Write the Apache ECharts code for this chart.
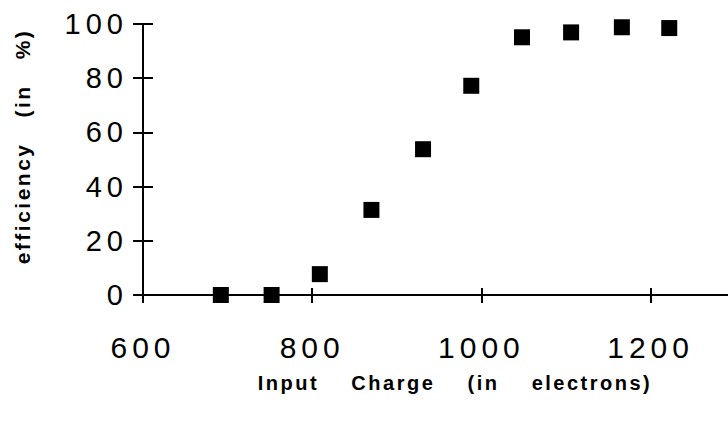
<!DOCTYPE html>
<html>
<head>
<meta charset="utf-8">
<script src="https://cdn.jsdelivr.net/npm/echarts@6/dist/echarts.min.js"></script>
<style>
  html, body { margin: 0; padding: 0; background: #fff; }
  #chart { width: 728px; height: 421px; }
  #chart text { letter-spacing: 5px; }
  #chart text[style*="bold"] { letter-spacing: 2.5px; }
</style>
</head>
<body>
<div id="chart"></div>
<script>
// Data
const inputCharge = [692, 752, 809, 870, 931, 988, 1048, 1106, 1166, 1222];
const efficiency  = [0, 0, 7.7, 31.4, 53.8, 77.2, 95.1, 96.9, 98.8, 98.5];
const xTicks = [600, 800, 1000, 1200];
const yTicks = [0, 20, 40, 60, 80, 100];
const xName = 'Input    Charge    (in    electrons)';
const yName = 'efficiency   (in   %)';

const points = inputCharge.map((x, i) => [x, efficiency[i]]);
const FONT = '"Liberation Sans", Arial, Helvetica, sans-serif';

const chart = echarts.init(document.getElementById('chart'), null, { renderer: 'svg' });

const gridBox = { left: 143, right: -3, top: 24, bottom: 126, containLabel: false, outerBoundsMode: 'none' };
const xCommon = {
  type: 'value', min: 600, max: 1295, interval: 200, position: 'bottom', offset: 0,
  splitLine: { show: false }
};
const yCommon = {
  type: 'value', min: 0, max: 100, interval: 20, position: 'left', offset: 0,
  splitLine: { show: false }
};
const axisLineStyle = { show: true, lineStyle: { color: '#000', width: 2 } };
const xFmt = v => (xTicks.indexOf(v) >= 0 ? String(v) : '');
const yFmt = v => (yTicks.indexOf(v) >= 0 ? String(v) : '');

chart.setOption({
  animation: false,
  backgroundColor: '#ffffff',
  grid: [Object.assign({}, gridBox), Object.assign({}, gridBox)],
  xAxis: [
    Object.assign({}, xCommon, {
      gridIndex: 0,
      name: xName,
      nameLocation: 'middle',
      nameGap: 78,
      nameTextStyle: { fontFamily: FONT, fontWeight: 'bold', fontSize: 20, color: '#000', padding: [0, 0, 0, 36] },
      axisLine: axisLineStyle,
      axisTick: { show: true, inside: false, length: 8, lineStyle: { color: '#000', width: 2 } },
      axisLabel: {
        show: true, margin: 37, fontFamily: FONT, fontSize: 30, color: '#000',
        showMaxLabel: false, formatter: xFmt
      }
    }),
    Object.assign({}, xCommon, {
      gridIndex: 1,
      axisLine: axisLineStyle,
      axisTick: { show: true, inside: true, length: 7, lineStyle: { color: '#000', width: 2 } },
      axisLabel: {
        show: true, inside: true, fontSize: 8, color: 'rgba(0,0,0,0)',
        showMaxLabel: false, formatter: xFmt
      }
    })
  ],
  yAxis: [
    Object.assign({}, yCommon, {
      gridIndex: 0,
      name: yName,
      nameLocation: 'middle',
      nameGap: 110,
      nameRotate: 90,
      nameTextStyle: { fontFamily: FONT, fontWeight: 'bold', fontSize: 21, color: '#000', padding: [0, 0, 0, 26] },
      axisLine: axisLineStyle,
      axisTick: { show: true, inside: false, length: 10, lineStyle: { color: '#000', width: 2 } },
      axisLabel: {
        show: true, margin: 15, fontFamily: FONT, fontSize: 29, color: '#000',
        formatter: yFmt
      }
    }),
    Object.assign({}, yCommon, {
      gridIndex: 1,
      axisLine: axisLineStyle,
      axisTick: { show: true, inside: true, length: 10, lineStyle: { color: '#000', width: 2 } },
      axisLabel: {
        show: true, inside: true, fontSize: 8, color: 'rgba(0,0,0,0)',
        formatter: yFmt
      }
    })
  ],
  series: [
    {
      type: 'scatter',
      xAxisIndex: 0,
      yAxisIndex: 0,
      data: points,
      symbol: 'rect',
      symbolSize: 16,
      itemStyle: { color: '#000', opacity: 1 },
      clip: false
    },
    {
      // invisible companion series for the overlay axes that carry the inner tick halves
      type: 'scatter',
      xAxisIndex: 1,
      yAxisIndex: 1,
      data: points,
      symbolSize: 0,
      silent: true,
      itemStyle: { opacity: 0 }
    }
  ]
});
</script>
</body>
</html>
